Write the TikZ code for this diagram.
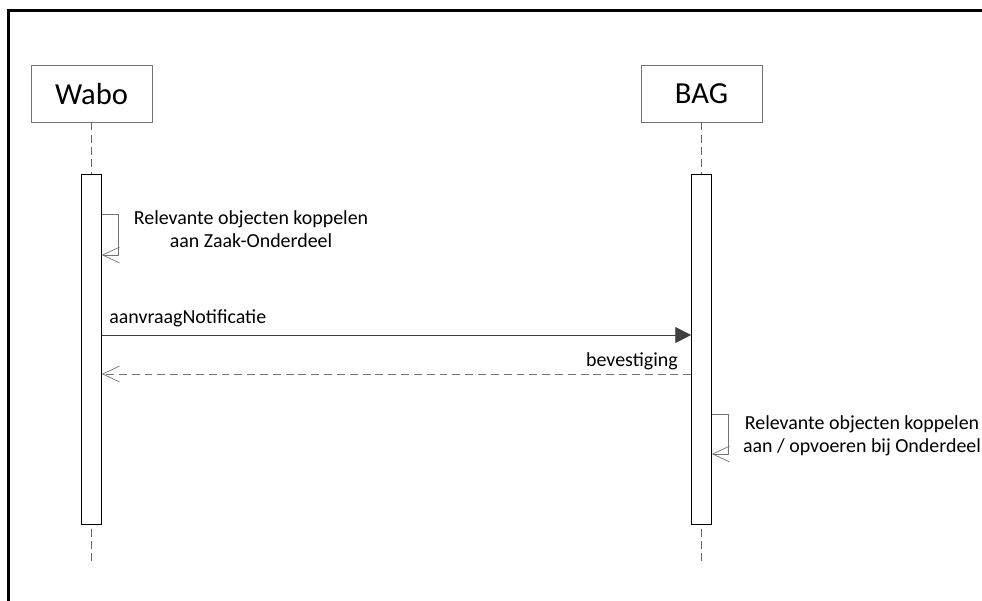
\documentclass[tikz,border=0pt]{standalone}
\usepackage{fontspec}
\setmainfont{Carlito}
\usetikzlibrary{arrows.meta}

\tikzset{
    actor/.style={draw=black!55,fill=white,minimum width=2.42cm,minimum height=1.14cm,
                  inner sep=0pt,font=\fontsize{17.4}{20}\selectfont},
    activation/.style={draw=black,fill=white,minimum width=0.4cm,minimum height=7cm,inner sep=0pt},
    lifeline/.style={draw=black!60,dash pattern=on 4.5pt off 2.5pt},
    msg/.style={inner sep=0pt,font=\fontsize{11.34}{13.1}\selectfont},
    call/.style={draw=black!75,-{Triangle[length=9pt,width=9pt]}},
    reply/.style={draw=black!55,dash pattern=on 4.5pt off 2.8pt,-{Straight Barb[length=9.6pt,width=9pt]}},
    selfcall/.style={draw=black!55,-{Straight Barb[length=9.6pt,width=9pt]}}
}

\begin{document}
\begin{tikzpicture}[x=0.02cm,y=-0.02cm]
    \useasboundingbox (0,0) rectangle (982,600);
    \clip (0,0) rectangle (982,600);
    \draw [line width=1.7pt] (8.7,10.7) rectangle (1100,700);

    % actors and activations
    \node [actor] (wabo) at (91.5,93.5) {Wabo};
    \node [actor] (bag)  at (701.5,93.5) {BAG};
    \node [activation] (wact) at (91.5,349) {};
    \node [activation] (bact) at (701.5,349) {};
    \coordinate (wend) at (91.5,564);
    \coordinate (bend) at (701.5,564);

    \draw [lifeline] (wabo.south) -- (wact.north);
    \draw [lifeline] (bag.south) -- (bact.north);
    \draw [lifeline,dash phase=4.5pt] (wact.south) -- (wend);
    \draw [lifeline,dash phase=4.5pt] (bact.south) -- (bend);

    % message levels
    \coordinate (y1) at (0,214);  \coordinate (y2) at (0,255);
    \coordinate (y3) at (0,335);  \coordinate (y4) at (0,374);
    \coordinate (y5) at (0,414);  \coordinate (y6) at (0,454);
    \coordinate (wself) at (118,0);
    \coordinate (bself) at (728,0);

    \draw [selfcall] (wact.east |- y1) -- (wself |- y1) -- (wself |- y2) -- (wact.east |- y2);
    \node [msg,align=center] (t1) at (251,229.5) {Relevante objecten koppelen\\aan Zaak-Onderdeel};

    \draw [call] (wact.east |- y3) -- (bact.west |- y3);
    \node [msg,anchor=west] (t2) at (109,318) {aanvraagNotificatie};

    \draw [reply] (bact.west |- y4) -- (wact.east |- y4);
    \node [msg,anchor=east] (t3) at (678,361) {bevestiging};

    \draw [selfcall] (bact.east |- y5) -- (bself |- y5) -- (bself |- y6) -- (bact.east |- y6);
    \node [msg,align=center] (t4) at (862,435.5) {Relevante objecten koppelen\\aan / opvoeren bij Onderdeel};
\end{tikzpicture}
\end{document}
